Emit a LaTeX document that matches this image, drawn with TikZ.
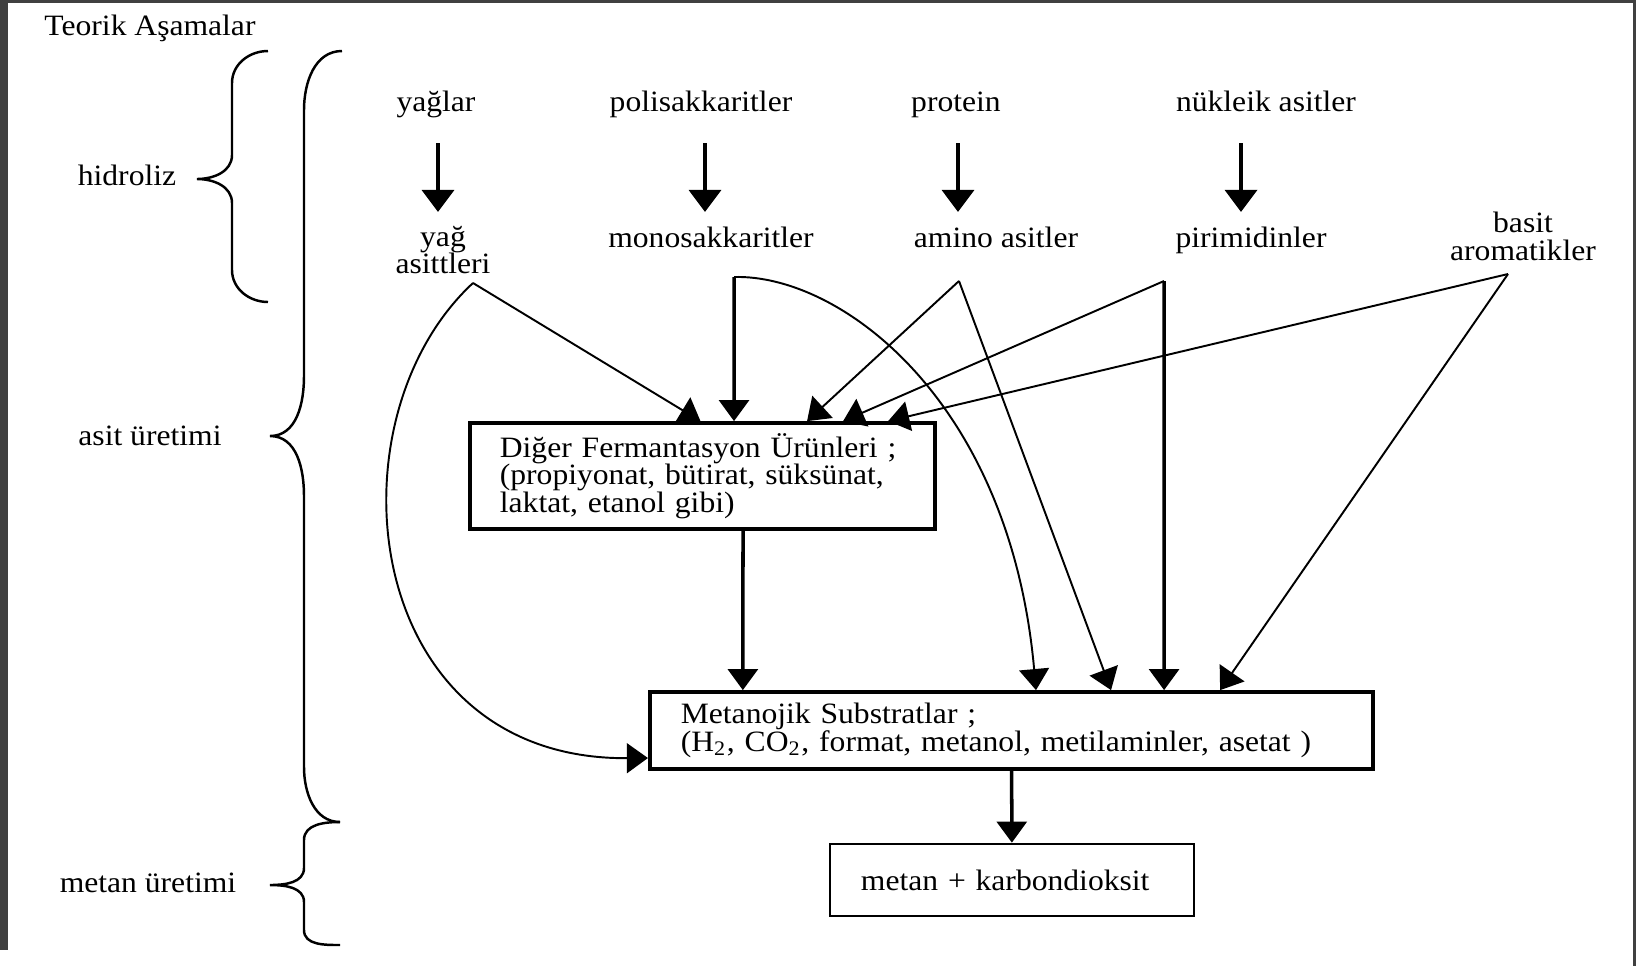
\documentclass[tikz,border=0pt]{standalone}
\usepackage{fontspec}
\setmainfont{Liberation Serif}[FakeStretch=1.07]
\usetikzlibrary{shapes,arrows,arrows.meta}

\begin{document}
\begin{tikzpicture}[x=0.01cm,y=-0.01cm]
        % anaerobik ayrisma asamalari, koordinatlar piksel cinsinden
        \tikzstyle{yazi} = [font={\fontsize{8.4}{7.9}\selectfont\lineskiplimit=-20pt},align=center,inner sep=0pt];
        \tikzstyle{kutu} = [draw,rectangle,line width=1.05pt,inner sep=0pt,font={\fontsize{8.4}{7.9}\selectfont\lineskiplimit=-20pt}];
        \tikzstyle{kalin} = [line width=1.4pt,-{Triangle[length=6.3pt,width=9pt]}];
        \tikzstyle{orta} = [line width=1pt,-{Triangle[length=6pt,width=8.5pt]}];
        \tikzstyle{ince} = [line width=0.55pt,-{Triangle[length=6pt,width=8.5pt]}];
        \tikzstyle{parantez} = [line width=0.7pt];

        \useasboundingbox (0,0) rectangle (1636,966);
        \fill[black!75] (0,0) rectangle (8,950);
        \fill[black!75] (0,0) rectangle (1636,3);
        \fill[black!75] (1633,0) rectangle (1636,966);

        \node[yazi,anchor=base] (baslik) at (150,35) {Teorik Aşamalar};
        \node[yazi,anchor=base] (hidroliz) at (127,185) {hidroliz};
        \node[yazi,anchor=base] (asit) at (150,445) {asit üretimi};
        \node[yazi,anchor=base] (metanu) at (148,892) {metan üretimi};

        % parantezler
        \draw[parantez] (268,51) to[out=180,in=90] (232,83) -- (232,155) to[out=-90,in=0] (197,179) to[out=0,in=90] (232,203) -- (232,270) to[out=-90,in=180] (268,302);
        \draw[parantez] (342,51) to[out=180,in=90] (304,110) -- (304,376) to[out=-90,in=0] (270,436) to[out=0,in=90] (304,496) -- (304,767) to[out=-90,in=180] (340,822);
        \draw[parantez] (340,822) to[out=180,in=90] (304,840) -- (304,868) to[out=-90,in=0] (270,885) to[out=0,in=90] (304,902) -- (304,930) to[out=-90,in=180] (340,945);

        \node[yazi,anchor=base] (yaglar) at (436,111) {yağlar};
        \node[yazi,anchor=base] (polisak) at (701,111) {polisakkaritler};
        \node[yazi,anchor=base] (protein) at (956,111) {protein};
        \node[yazi,anchor=base] (nukleik) at (1266,111) {nükleik asitler};

        \node[yazi] (yag) at (443,250) {yağ\\asittleri};
        \node[yazi,anchor=base] (monosak) at (711,247) {monosakkaritler};
        \node[yazi,anchor=base] (amino) at (996,247) {amino asitler};
        \node[yazi,anchor=base] (pirim) at (1251,247) {pirimidinler};
        \node[yazi] (basit) at (1523,236) {basit\\aromatikler};

        \node[kutu,minimum width=4.65cm,minimum height=1.06cm,text width=4.05cm,align=left] (diger) at (702.5,476) {Diğer Fermantasyon Ürünleri ;\\(propiyonat, bütirat, süksünat,\\laktat, etanol gibi)};
        \node[kutu,minimum width=7.23cm,minimum height=0.77cm,text width=6.61cm,align=left] (metanojik) at (1011.5,730.5) {Metanojik Substratlar ;\\(H\textsubscript{2}, CO\textsubscript{2}, format, metanol, metilaminler, asetat )};
        \node[kutu,line width=0.75pt,minimum width=3.64cm,minimum height=0.72cm,text width=3.02cm,align=left] (metan) at (1012,880) {metan + karbondioksit};

        % hidroliz
        \draw[kalin] (yaglar.base) ++(2,32) -- ++(0,69);
        \draw[kalin] (polisak.base) ++(4,32) -- ++(0,69);
        \draw[kalin] (protein.base) ++(2,32) -- ++(0,69);
        \draw[kalin] (nukleik.base) ++(-25,32) -- ++(0,69);

        \coordinate (yagc) at (473,283);
        \coordinate (monoc) at (734,277);
        \coordinate (aminoc) at (959,281);
        \coordinate (pirimc) at (1164,281);
        \coordinate (basitc) at (1508,274);

        \draw[ince] (yagc) -- ([xshift=-0.02cm]diger.north);
        \draw[ince] (yagc) .. controls (325,420) and (360,760) .. ([yshift=-0.275cm]metanojik.west);
        \draw[orta] (monoc) -- ([xshift=0.315cm]diger.north);
        \draw[ince] (monoc) .. controls (840,274) and (1010,400) .. ([xshift=0.245cm]metanojik.north);
        \draw[ince] (aminoc) -- ([xshift=1.045cm]diger.north);
        \draw[ince] (aminoc) -- ([xshift=0.995cm]metanojik.north);
        \draw[ince] (pirimc) -- ([xshift=1.405cm]diger.north);
        \draw[orta] (pirimc) -- ([xshift=1.525cm]metanojik.north);
        \draw[ince] (basitc) -- ([xshift=1.855cm]diger.north);
        \draw[ince] (basitc) -- ([xshift=2.085cm]metanojik.north);

        \draw[orta] ([xshift=0.405cm]diger.south) -- ([xshift=-2.685cm]metanojik.north);
        \draw[orta] (metanojik) -- (metan);

\end{tikzpicture}
\end{document}
